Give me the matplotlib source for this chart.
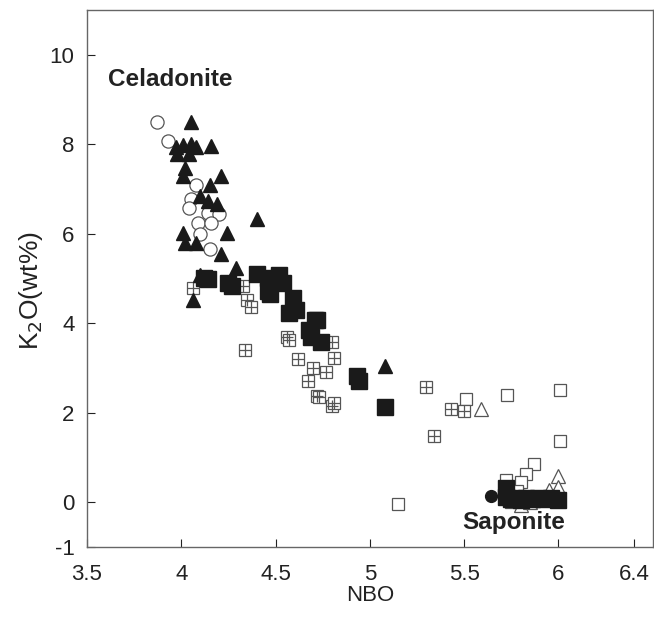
import matplotlib
matplotlib.use("Agg")
from matplotlib import pyplot as plt

# open circles
oc_x = [3.87, 3.93, 4.08, 4.05, 4.04, 4.14, 4.20, 4.09, 4.16, 4.10, 4.15]
oc_y = [8.50, 8.08, 7.10, 6.77, 6.57, 6.46, 6.44, 6.24, 6.24, 6.00, 5.66]

# filled triangles
ft_x = [4.05, 4.16, 3.97, 4.01, 4.05, 4.08, 3.98, 4.04, 4.02, 4.01, 4.15, 4.21,
        4.10, 4.14, 4.19, 4.40, 4.01, 4.02, 4.08, 4.24, 4.21, 4.29, 4.10, 4.06, 5.08]
ft_y = [8.50, 7.96, 7.94, 7.99, 8.01, 7.94, 7.79, 7.79, 7.46, 7.28, 7.10, 7.28,
        6.84, 6.73, 6.66, 6.33, 6.02, 5.80, 5.80, 6.02, 5.55, 5.24, 5.07, 4.51, 3.05]

# filled squares
fs_x = [4.12, 4.14, 4.25, 4.27, 4.40, 4.46, 4.52, 4.54, 4.46, 4.47, 4.59, 4.61,
        4.57, 4.72, 4.68, 4.69, 4.74, 4.71, 4.93, 4.94, 5.08,
        5.72, 5.72, 5.75, 5.78, 5.80, 5.83, 5.86, 5.89, 5.92, 5.96, 6.00]
fs_y = [5.02, 4.98, 4.91, 4.84, 5.11, 5.00, 5.07, 4.91, 4.73, 4.66, 4.56, 4.29,
        4.22, 4.07, 3.85, 3.69, 3.58, 4.07, 2.81, 2.72, 2.12,
        0.31, 0.12, 0.08, 0.10, 0.06, 0.09, 0.07, 0.10, 0.08, 0.10, 0.05]

# crossed squares
cs_x = [4.06, 4.33, 4.35, 4.37, 4.34, 4.56, 4.57, 4.80, 4.62, 4.81, 4.70, 4.77,
        4.67, 4.72, 4.73, 4.80, 4.81, 5.30, 5.43, 5.50, 5.34]
cs_y = [4.78, 4.84, 4.51, 4.36, 3.41, 3.69, 3.62, 3.58, 3.19, 3.23, 3.01, 2.92,
        2.70, 2.37, 2.35, 2.15, 2.22, 2.57, 2.08, 2.04, 1.48]

# open squares
os_x = [5.51, 5.73, 6.01, 6.01, 5.87, 5.15, 5.83, 5.80, 5.72, 5.75, 5.78]
os_y = [2.30, 2.39, 2.50, 1.37, 0.86, -0.03, 0.64, 0.46, 0.49, 0.00, 0.25]

# open triangles
ot_x = [5.59, 6.00, 6.00, 5.95, 5.80, 5.90, 5.97, 5.85]
ot_y = [2.08, 0.58, 0.35, 0.27, -0.07, 0.10, 0.15, 0.00]

# filled circles
fc_x = [5.64, 6.00, 5.95, 5.82]
fc_y = [0.13, 0.02, 0.08, 0.10]

plt.rcParams['font.family'] = ['Liberation Sans', 'DejaVu Sans']
plt.rcParams['axes.unicode_minus'] = False
fig = plt.figure(figsize=(6.54, 6.23), dpi=100)
ax = fig.add_axes([0.133, 0.122, 0.865, 0.862])

grey = '#555555'
dark = '#1a1a1a'
txt = '#222222'

ax.plot(os_x, os_y, 's', ms=9, mfc='white', mec=grey, mew=0.9, ls='none')
ax.plot(ot_x, ot_y, '^', ms=10, mfc='white', mec=grey, mew=0.9, ls='none')
ax.plot(cs_x, cs_y, 's', ms=9, mfc='white', mec=grey, mew=0.9, ls='none')
ax.plot(cs_x, cs_y, '+', ms=9, mec=grey, mew=0.9, ls='none')
ax.plot(oc_x, oc_y, 'o', ms=9.5, mfc='white', mec=grey, mew=0.9, ls='none')
ax.plot(ft_x, ft_y, '^', ms=10, color=dark, ls='none')
ax.plot(fs_x, fs_y, 's', ms=11, color=dark, ls='none')
ax.plot(fc_x, fc_y, 'o', ms=8.5, color=dark, ls='none')

ax.text(3.61, 9.45, "Celadonite", fontsize=17.5, fontweight='bold', va='center', color=txt)
ax.text(5.49, -0.45, "Saponite", fontsize=17.5, fontweight='bold', va='center', color=txt)

ax.set_xlim(3.5, 6.5)
ax.set_ylim(-1, 11)
ax.set_xticks([3.5, 4, 4.5, 5, 5.5, 6, 6.4])
ax.set_xticklabels(['3.5', '4', '4.5', '5', '5.5', '6', '6.4'])
ax.set_yticks([-1, 0, 2, 4, 6, 8, 10])
ax.tick_params(direction='in', length=6, labelsize=16, colors=txt)
ax.tick_params(axis='x', pad=12)
ax.tick_params(axis='y', pad=9)
for s in ax.spines.values():
    s.set_color('#666666')
    s.set_linewidth(1.0)

ax.set_xlabel("NBO", fontsize=16, color=txt, labelpad=0)
ax.set_ylabel("K$_2$O(wt%)", fontsize=19, color=txt)
ax.yaxis.set_label_coords(-0.075, 0.478)

plt.savefig('out.png', dpi=100)
